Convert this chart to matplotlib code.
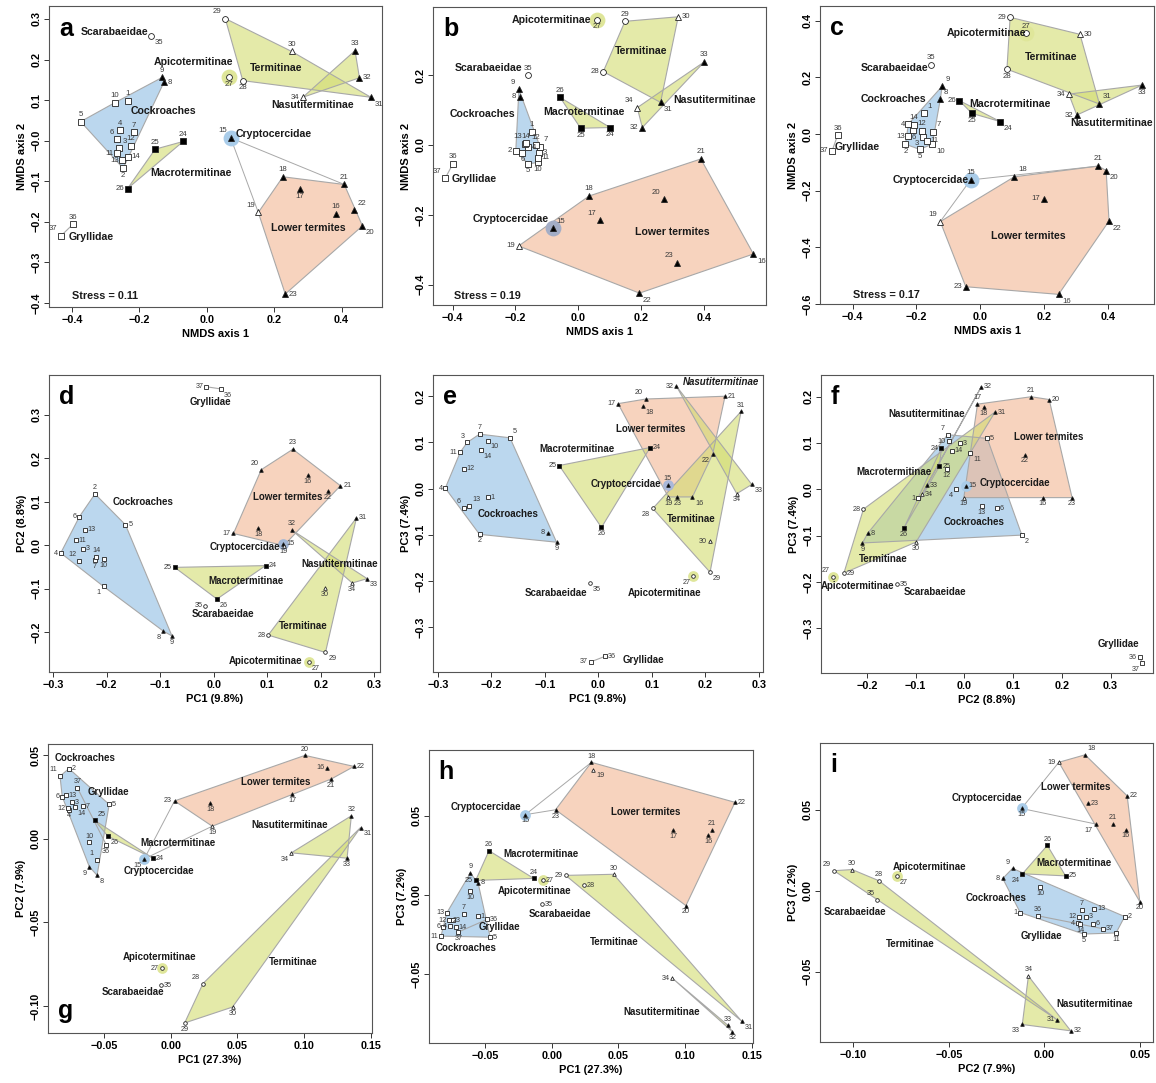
import numpy as np
import matplotlib.pyplot as plt
from matplotlib.patches import Polygon
from matplotlib.ticker import FuncFormatter

plt.rcParams['font.family'] = ['Liberation Sans', 'DejaVu Sans']

ids = list(range(1, 38))

# NMDS ordinations (panels a, b, c)
nmds_a_x = [-0.235, -0.248, -0.260, -0.257, -0.374, -0.265, -0.215, -0.127, -0.132, -0.272,
            -0.265, -0.226, -0.251, -0.233, 0.071, 0.383, 0.277, 0.226, 0.153, 0.462,
            0.408, 0.436, 0.233, -0.070, -0.153, -0.235, 0.065, 0.107, 0.055, 0.252,
            0.487, 0.453, 0.440, 0.285, -0.165, -0.397, -0.433]
nmds_a_y = [0.098, -0.068, -0.019, 0.026, 0.047, 0.003, 0.021, 0.144, 0.156, 0.094,
            -0.031, -0.013, -0.048, -0.039, 0.007, -0.181, -0.120, -0.089, -0.177, -0.210,
            -0.108, -0.172, -0.378, -0.002, -0.021, -0.118, 0.157, 0.148, 0.301, 0.220,
            0.107, 0.155, 0.222, 0.107, 0.259, -0.206, -0.235]

nmds_b_x = [-0.148, -0.199, -0.125, -0.159, -0.160, -0.178, -0.122, -0.187, -0.189, -0.129,
            -0.129, -0.135, -0.169, -0.167, -0.081, 0.556, 0.069, 0.034, -0.190, 0.273,
            0.389, 0.194, 0.314, 0.101, 0.007, -0.058, 0.060, 0.079, 0.148, 0.317,
            0.261, 0.203, 0.400, 0.187, -0.161, -0.399, -0.423]
nmds_b_y = [0.038, -0.017, -0.022, -0.007, -0.054, -0.022, -0.005, 0.138, 0.159, -0.050,
            -0.036, 0.000, 0.003, 0.005, -0.238, -0.312, -0.216, -0.146, -0.289, -0.155,
            -0.040, -0.424, -0.338, 0.050, 0.048, 0.136, 0.359, 0.210, 0.354, 0.367,
            0.122, 0.050, 0.238, 0.107, 0.200, -0.054, -0.095]

nmds_c_x = [-0.176, -0.234, -0.180, -0.225, -0.190, -0.209, -0.148, -0.125, -0.119, -0.150,
            -0.167, -0.182, -0.225, -0.207, -0.030, 0.246, 0.199, 0.107, -0.125, 0.395,
            0.371, 0.404, -0.045, 0.063, -0.026, -0.065, 0.144, 0.084, 0.094, 0.313,
            0.374, 0.303, 0.508, 0.278, -0.155, -0.447, -0.464]
nmds_c_y = [0.073, -0.036, -0.009, 0.035, -0.054, 0.014, 0.008, 0.122, 0.169, -0.036,
            -0.024, 0.011, -0.007, 0.032, -0.162, -0.566, -0.228, -0.151, -0.309, -0.129,
            -0.113, -0.307, -0.539, 0.044, 0.073, 0.118, 0.355, 0.229, 0.412, 0.352,
            0.106, 0.067, 0.173, 0.141, 0.244, -0.005, -0.059]

# PCA, first data set (panels d, e, f)
pca1_pc1 = [-0.206, -0.222, -0.245, -0.286, -0.165, -0.251, -0.222, -0.094, -0.078, -0.206,
            -0.258, -0.251, -0.241, -0.220, 0.130, 0.176, 0.037, 0.083, 0.131, 0.089,
            0.237, 0.214, 0.148, 0.097, -0.073, 0.006, 0.178, 0.102, 0.209, 0.208,
            0.267, 0.146, 0.287, 0.259, -0.016, 0.013, -0.014]
pca1_pc2 = [-0.095, 0.118, -0.008, -0.018, 0.047, 0.066, -0.034, -0.198, -0.209, -0.032,
            0.012, -0.036, 0.036, -0.026, 0.003, 0.161, 0.027, 0.040, -0.001, 0.174,
            0.137, 0.124, 0.221, -0.047, -0.051, -0.124, -0.270, -0.207, -0.247, -0.099,
            0.063, 0.035, -0.077, -0.087, -0.139, 0.360, 0.365]
pca1_pc3 = [-0.019, -0.099, 0.100, 0.001, 0.110, -0.041, 0.118, -0.095, -0.116, 0.104,
            0.079, 0.043, -0.037, 0.083, 0.008, -0.018, 0.184, 0.178, -0.018, 0.194,
            0.200, 0.075, -0.018, 0.089, 0.050, -0.084, -0.190, -0.043, -0.181, -0.114,
            0.167, 0.222, 0.009, -0.011, -0.205, -0.363, -0.375]

# PCA, second data set (panels g, h, i)
pca2_pc1 = [-0.0556, -0.0763, -0.0738, -0.0763, -0.0461, -0.0813, -0.0657, -0.0552, -0.0610, -0.0612,
            -0.0830, -0.0770, -0.0785, -0.0720, -0.0198, 0.1173, 0.0912, 0.0298, 0.0312, 0.1007,
            0.1204, 0.1375, 0.0029, -0.0135, -0.0570, -0.0470, -0.0066, 0.0242, 0.0105, 0.0464,
            0.1424, 0.1355, 0.1323, 0.0905, -0.0076, -0.0483, -0.0700]
pca2_pc2 = [-0.0127, 0.0419, 0.0218, 0.0174, 0.0205, 0.0251, 0.0194, -0.0218, -0.0167, -0.0022,
            0.0374, 0.0182, 0.0260, 0.0187, -0.0120, 0.0424, 0.0268, 0.0212, 0.0075, 0.0498,
            0.0357, 0.0432, 0.0226, -0.0115, 0.0110, 0.0015, -0.0772, -0.0865, -0.1100, -0.1005,
            0.0067, 0.0137, -0.0116, -0.0084, -0.0874, -0.0036, 0.0305]
pca2_pc3 = [-0.0135, -0.0160, -0.0160, -0.0200, -0.0268, -0.0203, -0.0120, 0.0075, 0.0137, 0.0024,
            -0.0261, -0.0160, -0.0112, -0.0206, 0.0507, 0.0376, 0.0411, 0.0838, 0.0792, -0.0068,
            0.0410, 0.0585, 0.0538, 0.0104, 0.0091, 0.0279, 0.0091, 0.0061, 0.0123, 0.0130,
            -0.0798, -0.0865, -0.0826, -0.0527, -0.0058, -0.0155, -0.0235]

groups = {
    "Cockroaches": list(range(1, 15)),
    "Lower termites": list(range(16, 24)),
    "Macrotermitinae": [24, 25, 26],
    "Termitinae": [28, 29, 30, 31],
    "Nasutitermitinae": [32, 33, 34],
    "Gryllidae": [36, 37],
}
hull_colors = {
    "Cockroaches": "#8fbde3",
    "Lower termites": "#f3b793",
    "Macrotermitinae": "#d2dc71",
    "Termitinae": "#d2dc71",
    "Nasutitermitinae": "#d2dc71",
}

# marker style per specimen
shape = ['s'] * 7 + ['^'] * 2 + ['s'] * 5 + ['^'] * 9 + ['s'] * 3 + ['o'] * 3 + ['^'] * 5 + ['o'] + ['s'] * 2
filled = ([False] * 7 + [True] * 2 + [False] * 5 + [True] * 4 + [False] + [True] * 4 +
          [True] * 3 + [False] * 4 + [True] * 3 + [False] * 2 + [False] * 2)

OFFS = {'u': (0, 1, 'center', 'bottom'), 'd': (0, -1, 'center', 'top'),
        'l': (-1, 0, 'right', 'center'), 'r': (1, 0, 'left', 'center'),
        'q': (-1, 1, 'right', 'bottom'), 'e': (1, 1, 'left', 'bottom'),
        'z': (-1, -1, 'right', 'top'), 'c': (1, -1, 'left', 'top')}


def convex_hull(pts):
    pts = sorted(set(pts))
    if len(pts) <= 2:
        return pts

    def cross(o, a, b):
        return (a[0] - o[0]) * (b[1] - o[1]) - (a[1] - o[1]) * (b[0] - o[0])
    lower, upper = [], []
    for p in pts:
        while len(lower) >= 2 and cross(lower[-2], lower[-1], p) <= 0:
            lower.pop()
        lower.append(p)
    for p in reversed(pts):
        while len(upper) >= 2 and cross(upper[-2], upper[-1], p) <= 0:
            upper.pop()
        upper.append(p)
    return lower[:-1] + upper[:-1]


def minus(fmt):
    return FuncFormatter(lambda v, p: (fmt % v).replace('-', '\u2212'))


panels = [
    dict(letter='a', x=nmds_a_x, y=nmds_a_y, rect=(49, 6, 382, 307), xlim=(-0.468, 0.52), ylim=(-0.41, 0.332),
         xt=np.arange(-0.4, 0.41, 0.2), yt=np.arange(-0.4, 0.31, 0.1), fmt='%.1f',
         xl='NMDS axis 1', yl='NMDS axis 2', stress='Stress = 0.11', sxy=(0.068, 0.035), big=True,
         links=[(15, 21), (15, 19)], glow15='#a9cce9',
         dirs="u d e u u q u r u u l u l r q u d u q c u e r u u l d d q u c r u l c u q",
         names={'Scarabaeidae': (-0.274, 0.268), 'Apicotermitinae': (-0.038, 0.195),
                'Cockroaches': (-0.127, 0.073), 'Macrotermitinae': (-0.048, -0.080),
                'Cryptocercidae': (0.20, 0.016), 'Termitinae': (0.206, 0.180),
                'Nasutitermitinae': (0.315, 0.087), 'Lower termites': (0.300, -0.216),
                'Gryllidae': (-0.344, -0.238)}),
    dict(letter='b', x=nmds_b_x, y=nmds_b_y, rect=(433, 7, 766, 305), xlim=(-0.462, 0.596), ylim=(-0.458, 0.395),
         xt=np.arange(-0.4, 0.41, 0.2), yt=np.arange(-0.4, 0.21, 0.2), fmt='%.1f',
         xl='NMDS axis 1', yl='NMDS axis 2', stress='Stress = 0.19', sxy=(0.062, 0.03), big=True,
         links=[], glow15='#a3adc6',
         dirs="u l r r d d e l q d r u q u e c q u l q u c q d d u d l u r c l u q u u q",
         names={'Apicotermitinae': (-0.085, 0.357), 'Scarabaeidae': (-0.284, 0.219),
                'Cockroaches': (-0.305, 0.090), 'Macrotermitinae': (0.018, 0.095),
                'Termitinae': (0.199, 0.269), 'Nasutitermitinae': (0.431, 0.129),
                'Gryllidae': (-0.330, -0.098), 'Cryptocercidae': (-0.214, -0.211),
                'Lower termites': (0.299, -0.248)}),
    dict(letter='c', x=nmds_c_x, y=nmds_c_y, rect=(820, 6, 1154, 304), xlim=(-0.502, 0.545), ylim=(-0.6, 0.452),
         xt=np.arange(-0.4, 0.41, 0.2), yt=np.arange(-0.6, 0.41, 0.2), fmt='%.1f',
         xl='NMDS axis 1', yl='NMDS axis 2', stress='Stress = 0.17', sxy=(0.1, 0.03), big=True,
         links=[(15, 21), (15, 19)], glow15='#a9cce9',
         dirs="e d z l d d e e e c r u l u u c l e q c u c l c d l u d l r e l d l u u l",
         names={'Apicotermitinae': (0.019, 0.355), 'Termitinae': (0.222, 0.271),
                'Scarabaeidae': (-0.269, 0.232), 'Cockroaches': (-0.272, 0.122),
                'Macrotermitinae': (0.092, 0.106), 'Nasutitermitinae': (0.413, 0.038),
                'Gryllidae': (-0.385, -0.045), 'Cryptocercidae': (-0.155, -0.162),
                'Lower termites': (0.152, -0.359)}),
    dict(letter='d', x=pca1_pc1, y=pca1_pc2, rect=(49, 375, 380, 672), xlim=(-0.308, 0.311), ylim=(-0.292, 0.392),
         xt=np.arange(-0.3, 0.31, 0.1), yt=np.arange(-0.2, 0.31, 0.1), fmt='%.1f',
         xl='PC1 (9.8%)', yl='PC2 (8.8%)', big=False, links=[], glow15='#a3b8d6',
         dirs="z u r l r l d z d d r q r u r d l d d q r d u r l c c l c d r u c d l c l",
         names={'Gryllidae': (-0.007, 0.329), 'Cockroaches': (-0.133, 0.100),
                'Lower termites': (0.138, 0.112), 'Cryptocercidae': (0.059, -0.003),
                'Nasutitermitinae': (0.235, -0.044), 'Macrotermitinae': (0.061, -0.082),
                'Scarabaeidae': (0.018, -0.158), 'Termitinae': (0.168, -0.186),
                'Apicotermitinae': (0.097, -0.267)}),
    dict(letter='e', x=pca1_pc1, y=pca1_pc3, rect=(433, 375, 763, 672), xlim=(-0.309, 0.308), ylim=(-0.397, 0.246),
         xt=np.arange(-0.3, 0.31, 0.1), yt=np.arange(-0.3, 0.21, 0.1), fmt='%.1f',
         xl='PC1 (9.8%)', yl='PC3 (7.4%)', big=False, links=[], glow15='#a9b8da',
         dirs="r d q l e q u l d c l r e c u c l c d q r z d r l d z z c l u l c d c r l",
         italic='Nasutitermitinae',
         names={'Nasutitermitinae': (0.230, 0.230), 'Lower termites': (0.098, 0.130),
                'Macrotermitinae': (-0.040, 0.085), 'Cryptocercidae': (0.051, 0.009),
                'Cockroaches': (-0.169, -0.056), 'Termitinae': (0.174, -0.065),
                'Scarabaeidae': (-0.079, -0.225), 'Apicotermitinae': (0.124, -0.225),
                'Gryllidae': (0.085, -0.371)}),
    dict(letter='f', x=pca1_pc2, y=pca1_pc3, rect=(821, 375, 1153, 673), xlim=(-0.294, 0.387), ylim=(-0.397, 0.247),
         xt=np.arange(-0.2, 0.31, 0.1), yt=np.arange(-0.3, 0.21, 0.1), fmt='%.1f',
         xl='PC2 (8.8%)', yl='PC3 (7.4%)', big=False, links=[], glow15='#a9cce9',
         dirs="l c r z r r q r d l c d d r r d u d d r u d d l r d q l r d r r r r r l z",
         names={'Nasutitermitinae': (-0.077, 0.163), 'Lower termites': (0.174, 0.112),
                'Macrotermitinae': (-0.144, 0.037), 'Cryptocercidae': (0.104, 0.013),
                'Cockroaches': (0.020, -0.070), 'Termitinae': (-0.167, -0.151),
                'Apicotermitinae': (-0.219, -0.208), 'Scarabaeidae': (-0.061, -0.222),
                'Gryllidae': (0.317, -0.335)}),
    dict(letter='g', x=pca2_pc1, y=pca2_pc2, rect=(48, 744, 372, 1033), xlim=(-0.092, 0.151), ylim=(-0.116, 0.0566),
         xt=np.arange(-0.05, 0.151, 0.05), yt=np.arange(-0.10, 0.051, 0.05), fmt='%.2f',
         xl='PC1 (27.3%)', yl='PC2 (7.9%)', big=False, links=[(15, 23), (15, 19)], glow15='#a9cce9',
         letter_bottom=True,
         dirs="q r r d r l r c z u q l r c z l d d d u d r l r e c l q d d c u d z r d u",
         names={'Cockroaches': (-0.064, 0.048), 'Gryllidae': (-0.047, 0.028),
                'Lower termites': (0.0788, 0.0337), 'Nasutitermitinae': (0.0893, 0.0084),
                'Macrotermitinae': (0.0058, -0.0028), 'Cryptocercidae': (-0.0088, -0.0195),
                'Apicotermitinae': (-0.008, -0.0707), 'Termitinae': (0.0923, -0.0733),
                'Scarabaeidae': (-0.0281, -0.0914)}),
    dict(letter='h', x=pca2_pc1, y=pca2_pc3, rect=(429, 750, 753, 1043), xlim=(-0.092, 0.151), ylim=(-0.0937, 0.0916),
         xt=np.arange(-0.05, 0.151, 0.05), yt=np.arange(-0.05, 0.051, 0.05), fmt='%.2f',
         xl='PC1 (27.3%)', yl='PC3 (7.2%)', big=False, links=[(15, 18), (15, 23)], glow15='#a9cce9',
         dirs="r r r l r l u r u d l l l r d d d u c d u r d u l u r r l u c d u l r r d",
         names={'Cryptocercidae': (-0.0495, 0.0558), 'Lower termites': (0.0705, 0.0526),
                'Macrotermitinae': (-0.008, 0.0257), 'Apicotermitinae': (-0.013, 0.0027),
                'Scarabaeidae': (0.0063, -0.0122), 'Gryllidae': (-0.0388, -0.0206),
                'Cockroaches': (-0.0643, -0.0337), 'Termitinae': (0.047, -0.0299),
                'Nasutitermitinae': (0.0825, -0.0741)}),
    dict(letter='i', x=pca2_pc2, y=pca2_pc3, rect=(820, 743, 1153, 1042), xlim=(-0.1173, 0.0567), ylim=(-0.0934, 0.0911),
         xt=np.arange(-0.10, 0.051, 0.05), yt=np.arange(-0.05, 0.051, 0.05), fmt='%.2f',
         xl='PC2 (7.9%)', yl='PC3 (7.2%)', big=False, links=[(15, 19), (15, 17)], glow15='#a9cce9',
         dirs="l r r l d r u l q d d l r d d d z e l d u r r z r u c u q u l r z u q u r",
         names={'Lower termites': (0.0164, 0.0637), 'Cryptocercidae': (-0.0299, 0.0571),
                'Apicotermitinae': (-0.0599, 0.0144), 'Macrotermitinae': (0.0153, 0.0173),
                'Cockroaches': (-0.0254, -0.0047), 'Gryllidae': (-0.0016, -0.0278),
                'Scarabaeidae': (-0.099, -0.0130), 'Termitinae': (-0.0703, -0.0330),
                'Nasutitermitinae': (0.0263, -0.0697)}),
]

W, H = 1156, 1083
fig = plt.figure(figsize=(W / 100, H / 100), dpi=100)

for p in panels:
    l, t, r, b = p['rect']
    ax = fig.add_axes([l / W, 1 - b / H, (r - l) / W, (b - t) / H])
    xs = dict(zip(ids, p['x']))
    ys = dict(zip(ids, p['y']))
    big = p['big']
    ms = 4.2 if big else 2.6
    glow = 130 if big else 60

    # hulls
    for g, members in groups.items():
        pts = convex_hull([(xs[k], ys[k]) for k in members])
        if g in hull_colors:
            ax.add_patch(Polygon(pts, closed=True, facecolor=hull_colors[g], alpha=0.6,
                                 edgecolor='none', zorder=1))
            ax.add_patch(Polygon(pts, closed=True, facecolor='none', edgecolor='#a8a8a8',
                                 lw=0.8, zorder=1.2))
        else:
            ax.plot([q[0] for q in pts], [q[1] for q in pts], color='#a8a8a8', lw=0.8, zorder=1.2)
    for a_, b_ in p['links']:
        ax.plot([xs[a_], xs[b_]], [ys[a_], ys[b_]], color='#a8a8a8', lw=0.7, zorder=1.2)

    # highlight circles for single-specimen lineages
    ax.scatter([xs[15]], [ys[15]], s=glow, color=p['glow15'], zorder=2, lw=0)
    ax.scatter([xs[27]], [ys[27]], s=glow, color='#dfe69a', zorder=2, lw=0)

    # specimens
    for k in ids:
        i = k - 1
        ax.plot(xs[k], ys[k], marker=shape[i], ms=ms if shape[i] != 's' else ms * 0.95,
                mfc='black' if filled[i] else 'white', mec='#222222',
                mew=0.6, ls='none', zorder=3)

    # number labels
    dirs = p['dirs'].split()
    dd = 2.6 if big else 2.0
    for k in ids:
        dx, dy, ha, va = OFFS[dirs[k - 1]]
        ax.annotate(str(k), (xs[k], ys[k]), xytext=(dx * dd, dy * dd), textcoords='offset points',
                    ha=ha, va=va, fontsize=5.6 if big else 5.2, color='#3a3a3a', zorder=4)

    # group names
    for name, (gx, gy) in p['names'].items():
        style = 'italic' if p.get('italic') == name else 'normal'
        ax.text(gx, gy, name, ha='center', va='center', fontsize=7.6 if big else 7.0,
                fontweight='bold', fontstyle=style, color='#1a1a1a', zorder=5)

    if 'stress' in p:
        ax.text(p['sxy'][0], p['sxy'][1], p['stress'], transform=ax.transAxes, ha='left', va='center',
                fontsize=7.8, fontweight='bold', color='#1a1a1a')

    if p.get('letter_bottom'):
        ax.text(0.03, 0.075, p['letter'], transform=ax.transAxes, ha='left', va='center',
                fontsize=18, fontweight='bold')
    else:
        ax.text(0.03, 0.925, p['letter'], transform=ax.transAxes, ha='left', va='center',
                fontsize=18, fontweight='bold')

    ax.set_xlim(*p['xlim'])
    ax.set_ylim(*p['ylim'])
    ax.set_xticks(p['xt'])
    ax.set_yticks(p['yt'])
    ax.xaxis.set_major_formatter(minus(p['fmt']))
    ax.yaxis.set_major_formatter(minus(p['fmt']))
    ax.tick_params(direction='out', length=3.5, width=0.7, labelsize=7.8, pad=2, color='#333333')
    for lab in ax.get_xticklabels() + ax.get_yticklabels():
        lab.set_fontweight('bold')
    for lab in ax.get_yticklabels():
        lab.set_rotation(90)
        lab.set_va('center')
    for s in ax.spines.values():
        s.set_color('#555555')
        s.set_linewidth(0.8)
    ax.set_xlabel(p['xl'], fontsize=8, fontweight='bold', labelpad=3)
    ax.set_ylabel(p['yl'], fontsize=8, fontweight='bold', labelpad=3)

fig.savefig('out.png', dpi=100)
